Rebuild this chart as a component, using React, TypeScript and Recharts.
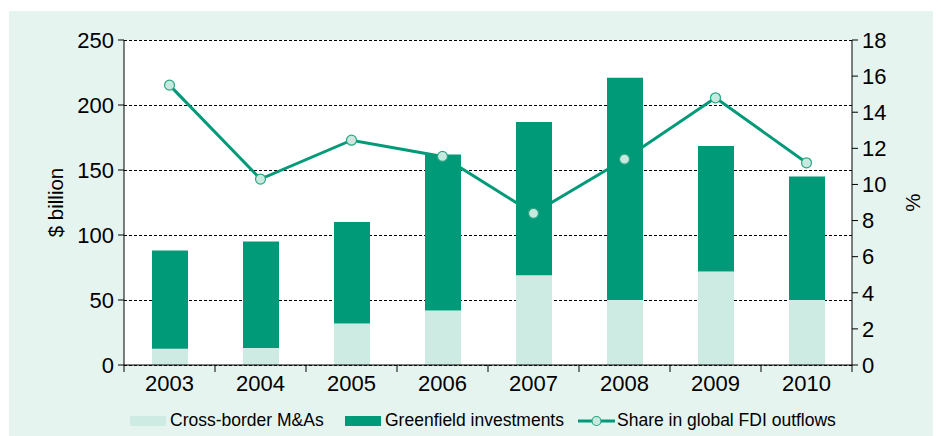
import React from 'react';
import { ComposedChart, Bar, Line, XAxis, YAxis, CartesianGrid } from 'recharts';

const years = ['2003', '2004', '2005', '2006', '2007', '2008', '2009', '2010'];
const crossBorderMA = [12.5, 13, 32, 42, 69, 50, 72, 50];
const greenfield = [75.5, 82, 78, 120, 118, 171, 96.5, 95];
const shareFDI = [15.5, 10.3, 12.45, 11.55, 8.4, 11.4, 14.8, 11.2];
const leftTicks = [0, 50, 100, 150, 200, 250];
const rightTicks = [0, 2, 4, 6, 8, 10, 12, 14, 16, 18];

const data = years.map((y, i) => ({
  year: y,
  ma: crossBorderMA[i],
  gf: greenfield[i],
  share: shareFDI[i],
}));

const FONT = '"Liberation Sans", Arial, Helvetica, sans-serif';
const DARK = '#009a78';
const LIGHT = '#cdebe3';
const DOT_FILL = '#c7e9df';
const BG = '#e6f4f0';

const tickStyle = { fill: '#000', fontSize: 22, fontFamily: FONT };
const TICK_MARGIN = 9;
const BOUNDARY_TICK = 7;

function CategoryTick(props: any) {
  const { x, y, payload, index, width, visibleTicksCount } = props;
  const count = visibleTicksCount || years.length;
  const half = width / count / 2;
  const axisY = y - TICK_MARGIN;
  return (
    <g>
      <line x1={x - half} x2={x - half} y1={axisY} y2={axisY + BOUNDARY_TICK} stroke="#000" strokeWidth={1} />
      {index === count - 1 && (
        <line x1={x + half} x2={x + half} y1={axisY} y2={axisY + BOUNDARY_TICK} stroke="#000" strokeWidth={1} />
      )}
      <text x={x} y={y} dy="0.78em" textAnchor="middle" fill="#000" fontSize={22} fontFamily={FONT}>
        {payload.value}
      </text>
    </g>
  );
}

export default function App() {
  return (
    <div style={{ marginLeft: 1, marginTop: 3, width: 932, height: 425, background: BG, position: 'relative', fontFamily: FONT }}>
      <ComposedChart width={932} height={425} data={data} margin={{ top: 29, right: 0, left: 0, bottom: 41 }}>
        <CartesianGrid xAxisId="cat" yAxisId="left" vertical={false} fill="#ffffff" stroke="#000" strokeWidth={1} strokeDasharray="3 2" shapeRendering="crispEdges" />
        <XAxis xAxisId="cat" dataKey="year" height={30} tickLine={false} axisLine={{ stroke: '#000' }} tick={<CategoryTick />} tickSize={0} tickMargin={TICK_MARGIN} interval={0} />
        <YAxis yAxisId="left" domain={[0, 250]} ticks={leftTicks} width={115} tick={tickStyle} tickLine={{ stroke: '#000' }} axisLine={{ stroke: '#000' }} tickSize={6} tickMargin={4}
          label={{ value: '$ billion', angle: -90, position: 'insideLeft', offset: 47, style: { textAnchor: 'middle', fontSize: 20.5, fill: '#000', fontFamily: FONT } }} />
        <YAxis yAxisId="right" orientation="right" domain={[0, 18]} ticks={rightTicks} width={89} tick={tickStyle} tickLine={{ stroke: '#000' }} axisLine={{ stroke: '#000' }} tickSize={6} tickMargin={4}
          label={{ value: '%', angle: -90, position: 'insideRight', offset: 28, style: { textAnchor: 'middle', fontSize: 20.5, fill: '#000', fontFamily: FONT } }} />
        <Line xAxisId="cat" yAxisId="right" dataKey="share" stroke={DARK} strokeWidth={3} dot={false} activeDot={false} isAnimationActive={false} />
        <Bar xAxisId="cat" yAxisId="left" dataKey="ma" stackId="s" fill={LIGHT} barSize={36} isAnimationActive={false} />
        <Bar xAxisId="cat" yAxisId="left" dataKey="gf" stackId="s" fill={DARK} barSize={36} isAnimationActive={false} />
        <Line xAxisId="cat" yAxisId="right" dataKey="share" stroke="none" dot={{ r: 5, fill: DOT_FILL, stroke: '#2aa683', strokeWidth: 1.2 }} activeDot={false} isAnimationActive={false} />
      </ComposedChart>
      <div style={{ position: 'absolute', top: 399, left: 0, width: 932, height: 22, fontSize: 17.5, color: '#000' }}>
        <div style={{ position: 'absolute', left: 121, top: 6, width: 36, height: 10, background: LIGHT }} />
        <div style={{ position: 'absolute', left: 161, top: 0, whiteSpace: 'nowrap' }}>Cross-border M&amp;As</div>
        <div style={{ position: 'absolute', left: 336, top: 6, width: 36, height: 10, background: DARK }} />
        <div style={{ position: 'absolute', left: 376, top: 0, whiteSpace: 'nowrap' }}>Greenfield investments</div>
        <svg style={{ position: 'absolute', left: 568, top: 1 }} width={40} height={20}>
          <line x1={1} y1={10} x2={38} y2={10} stroke={DARK} strokeWidth={3} />
          <circle cx={19.5} cy={10} r={4.5} fill={DOT_FILL} stroke="#2aa683" strokeWidth={1.2} />
        </svg>
        <div style={{ position: 'absolute', left: 608, top: 0, whiteSpace: 'nowrap' }}>Share in global FDI outflows</div>
      </div>
    </div>
  );
}
